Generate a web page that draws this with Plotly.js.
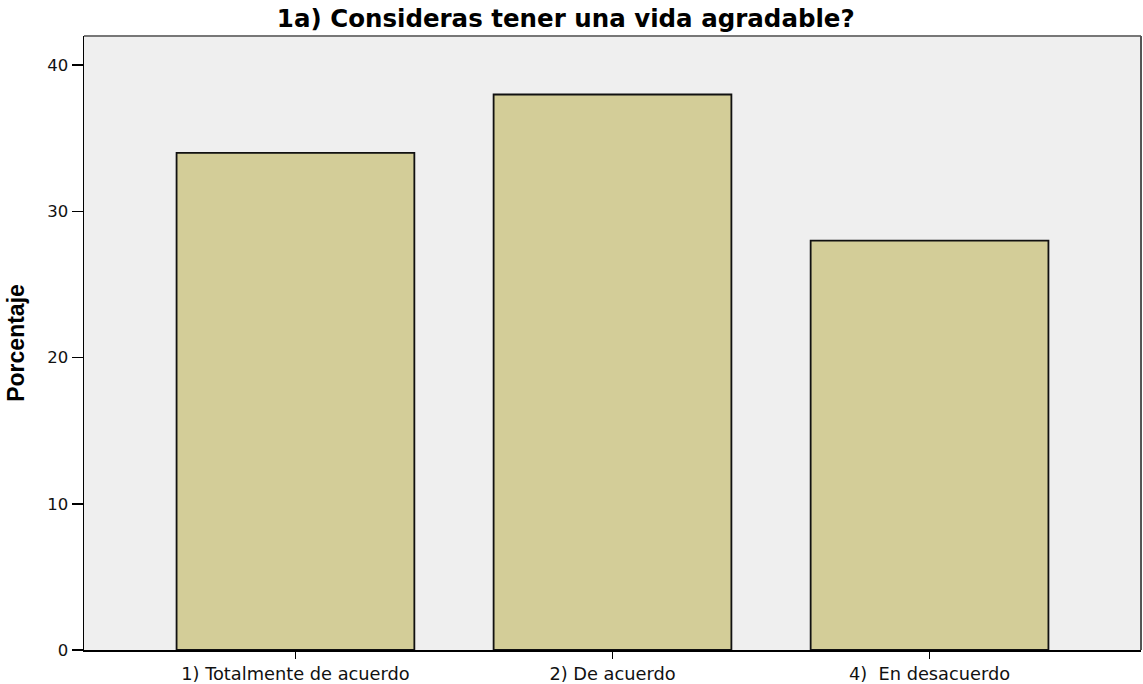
<!DOCTYPE html>
<html><head><meta charset="utf-8">
<script src="https://cdn.plot.ly/plotly-3.0.1.min.js"></script>
<style>html,body{margin:0;padding:0;background:#fff}#c{width:1143px;height:684px}</style>
</head><body><div id="c"></div>
<script>
const categories = ["1) Totalmente de acuerdo", "2) De acuerdo", "4)  En desacuerdo"];
const values = [34, 38, 28];
const yTicks = [0, 10, 20, 30, 40];

const trace = {
  type: "bar", x: categories, y: values, width: 0.75,
  marker: {color: "#d3cd98", line: {color: "#111", width: 1.8}},
  hoverinfo: "none"
};
const layout = {
  width: 1143, height: 684,
  margin: {l: 84, r: 2, t: 36, b: 34},
  paper_bgcolor: "#fff", plot_bgcolor: "#efefef",
  showlegend: false,
  font: {family: "DejaVu Sans, Liberation Sans, sans-serif", size: 16, color: "#111"},
  title: {text: "<b>1a) Consideras tener una vida agradable?</b>", x: 0.495, xanchor: "center", xref: "container", y: 18, yref: "container", yanchor: "middle",
    font: {family: "DejaVu Sans, sans-serif", size: 24.5, color: "#000"}},
  xaxis: {type: "category", range: [-0.667, 2.667], showgrid: false, zeroline: false,
    showline: true, linecolor: "#000", linewidth: 1.5, ticks: "outside", ticklen: 7, tickcolor: "#000", tickwidth: 1.5,
    tickfont: {family: "DejaVu Sans, sans-serif", size: 17.8, color: "#111"}},
  yaxis: {range: [0, 42], tickvals: yTicks, ticktext: yTicks.map(String), showgrid: false, zeroline: false,
    showline: true, linecolor: "#000", linewidth: 1.5, ticks: "outside", ticklen: 11, tickcolor: "#000", tickwidth: 1.5,
    tickfont: {family: "DejaVu Sans, sans-serif", size: 16.5, color: "#111"},
    title: {text: "<b>Porcentaje</b>", standoff: 16, font: {family: "Liberation Sans, Arial, sans-serif", size: 23, color: "#000"}}},
  shapes: [
    {type: "line", xref: "paper", yref: "paper", x0: 0, x1: 1, y0: 1, y1: 1, line: {color: "#777", width: 2}},
    {type: "line", xref: "paper", yref: "paper", x0: 1, x1: 1, y0: 0, y1: 1, line: {color: "#555", width: 2}}
  ]
};
Plotly.newPlot("c", [trace], layout, {displayModeBar: false, staticPlot: true});
</script></body></html>
